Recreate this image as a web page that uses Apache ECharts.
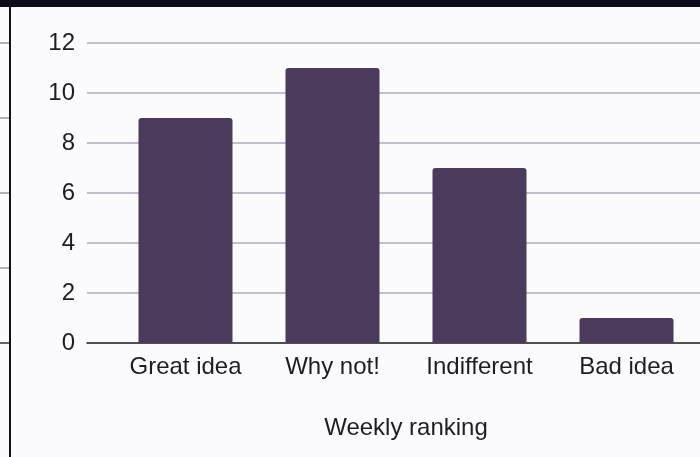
<!DOCTYPE html>
<html>
<head>
<meta charset="utf-8">
<script src="https://cdn.jsdelivr.net/npm/echarts@6/dist/echarts.min.js"></script>
<style>
  html, body { margin: 0; padding: 0; background: #fbfafc; }
  #chart { width: 700px; height: 457px; }
</style>
</head>
<body>
<div id="chart"></div>
<script>
// Weekly ranking survey results
const categories = ['Great idea', 'Why not!', 'Indifferent', 'Bad idea'];
const votes = [9, 11, 7, 1];
const yTicks = [0, 2, 4, 6, 8, 10, 12];

const FONT = '"Liberation Sans", Arial, sans-serif';
const BAR = '#4a3a5b';
const GRID_LINE = '#b1a8ba';

const chart = echarts.init(document.getElementById('chart'), null, { renderer: 'canvas' });

// gridline stubs of the neighbouring panel along the left edge
const stubYs = [43, 118, 193, 268, 343];
const stubs = stubYs.map(function (y, i) {
  return {
    type: 'line',
    shape: { x1: 0, y1: y, x2: 9, y2: y },
    style: { stroke: i === stubYs.length - 1 ? '#333' : '#9a96a0', lineWidth: 1.5 }
  };
});

chart.setOption({
  backgroundColor: '#fbfafc',
  animation: false,
  graphic: stubs.concat([
    { type: 'rect', shape: { x: 0, y: 0, width: 700, height: 7 }, style: { fill: '#0b0b1c' }, z: 10 },
    { type: 'rect', shape: { x: 9, y: 0, width: 2, height: 457 }, style: { fill: '#111' }, z: 10 }
  ]),
  grid: [
    { left: 112, width: 592, top: 43, height: 300 },
    { left: 87, right: -5, top: 43, height: 300 }
  ],
  xAxis: [
    {
      type: 'category',
      gridIndex: 0,
      data: categories,
      axisLine: { show: false },
      axisTick: { show: false },
      axisLabel: { fontFamily: FONT, fontSize: 24, color: '#1e1e22', margin: 12 },
      name: 'Weekly ranking',
      nameLocation: 'middle',
      nameGap: 73,
      nameTextStyle: { fontFamily: FONT, fontSize: 24, color: '#1e1e22', verticalAlign: 'top' }
    },
    {
      type: 'value',
      gridIndex: 1,
      min: 0, max: 1,
      axisLine: { show: true, lineStyle: { color: '#2a2a2a', width: 1.5 } },
      axisTick: { show: false },
      axisLabel: { show: false },
      splitLine: { show: false }
    }
  ],
  yAxis: [
    {
      type: 'value',
      gridIndex: 0,
      min: yTicks[0], max: yTicks[yTicks.length - 1], interval: 2,
      axisLine: { show: false },
      axisTick: { show: false },
      axisLabel: { show: false },
      splitLine: { show: false }
    },
    {
      type: 'value',
      gridIndex: 1,
      min: yTicks[0], max: yTicks[yTicks.length - 1], interval: 2,
      axisLine: { show: false },
      axisTick: { show: false },
      axisLabel: { fontFamily: FONT, fontSize: 24, color: '#1e1e22', margin: 12 },
      splitLine: { show: true, lineStyle: { color: GRID_LINE, width: 1.5 } }
    }
  ],
  series: [
    {
      type: 'bar',
      xAxisIndex: 0,
      yAxisIndex: 0,
      data: votes,
      barWidth: 94,
      itemStyle: { color: BAR, borderRadius: [3, 3, 0, 0] },
      z: 5
    }
  ]
});
</script>
</body>
</html>
